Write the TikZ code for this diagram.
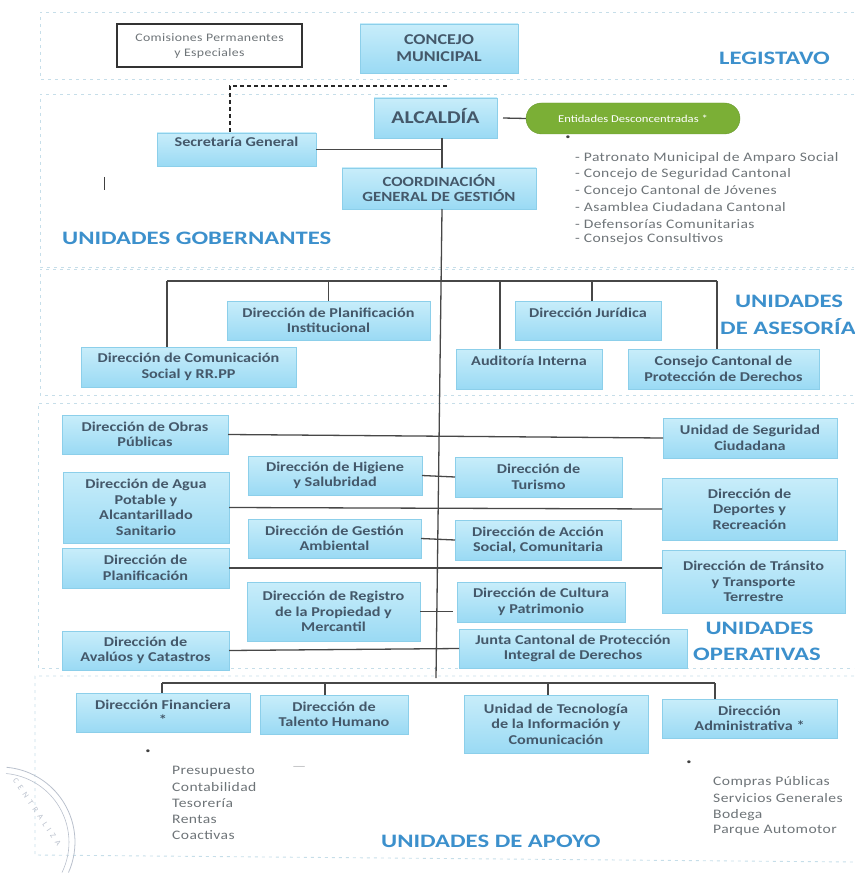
\documentclass[tikz,border=0pt]{standalone}
\usepackage{fontspec}
\usepackage{xcolor}
\setmainfont[FakeStretch=1.2]{Carlito}
\newfontfamily\listfont[LetterSpace=3,FakeStretch=1.2]{Carlito}
\newfontfamily\titlefont[FakeStretch=1.3]{Carlito}
\newfontfamily\sellofont[LetterSpace=55]{Carlito}
\definecolor{boxtop}{HTML}{C8EDFA}
\definecolor{boxbot}{HTML}{9ADAF4}
\definecolor{boxline}{HTML}{8CCFEA}
\definecolor{boxtext}{HTML}{44586A}
\definecolor{titleblue}{HTML}{3C90CC}
\definecolor{zoneline}{HTML}{C6DEE9}
\definecolor{listgray}{HTML}{6E7478}
\definecolor{stampgray}{HTML}{B9C0CC}
\definecolor{entfill}{HTML}{7BAF36}
\definecolor{entline}{HTML}{6A9A30}

\begin{document}
\begin{tikzpicture}[x=1pt,y=-1pt]
			\tikzstyle{unitbox} = [rectangle, inner sep=0pt, outer sep=0pt, text centered, align=center, draw=boxline, top color=boxtop, bottom color=boxbot, text=boxtext, font=\fontsize{13.5}{15.5}\selectfont\bfseries]
			\tikzstyle{unitname} = [text=titleblue, font=\fontsize{19}{20}\titlefont\bfseries, inner sep=0pt, anchor=west]
			\tikzstyle{listitem} = [text=listgray, font=\fontsize{13}{14}\listfont, inner sep=0pt, anchor=west]
			\tikzstyle{dotmark} = [text=black!75, font=\fontsize{8}{9}\selectfont, inner sep=0pt]
			\tikzstyle{zone} = [draw=zoneline, dash pattern=on 3pt off 4pt, line width=0.9pt]
			\tikzstyle{conn} = [draw=black!72, line width=1.3pt]

			\useasboundingbox (0,0) rectangle (854,874);

			% bandas
			\draw [zone] (854,12) -- (40,12) -- (40,79) -- (854,79);
			\draw [zone] (854,94) -- (40,94) -- (40,267) -- (854,267);
			\draw [zone] (854,269) -- (40,269) -- (40,395) -- (854,395);
			\draw [zone] (854,403) -- (38,403) -- (38,668) -- (854,668);
			\draw [zone] (854,676) -- (35,676) -- (35,855) -- (854,862);

			% sello
			\draw [stampgray, line width=0.8pt] (68.5,872.5) arc (-24:85:75pt);
			\draw [stampgray, line width=0.6pt] (62,872.5) arc (-26:85:69pt);
			\node (sello) [rotate=-56, text=stampgray, inner sep=0pt, font=\fontsize{8}{10}\sellofont] at (37,812) {CENTRALIZA};

			% legislativo
			\node (comisiones) [rectangle, draw=black!80, line width=1.1pt, inner sep=0pt, align=center, text=listgray, minimum width=185pt, minimum height=43pt, font=\fontsize{11.5}{15}\listfont] at (209.5,45.5) {Comisiones Permanentes\\y Especiales};
			\node (concejo) [unitbox, minimum width=158pt, minimum height=49pt, font=\fontsize{15}{17}\selectfont\bfseries] at (439,48.5) {CONCEJO\\MUNICIPAL};
			\node (legis) [unitname] at (719,58) {LEGISTAVO};

			% gobernantes
			\node (alcaldia) [unitbox, minimum width=123pt, minimum height=40pt, font=\fontsize{18}{20}\selectfont\bfseries] at (435.5,118) {\raisebox{4pt}{ALCALDÍA}};
			\node (entidades) [rectangle, rounded corners=15.5pt, inner sep=0pt, draw=entline, fill=entfill, minimum width=214pt, minimum height=31pt, text=white, font=\fontsize{10.5}{12}\selectfont] at (633,118.5) {Entidades Desconcentradas *};
			\node (secretaria) [unitbox, minimum width=159pt, minimum height=33pt] at (236.5,149.5) {Secretaría General\\~};
			\node (coordinacion) [unitbox, minimum width=194pt, minimum height=41pt, font=\fontsize{14}{15}\selectfont\bfseries] at (439,188.5) {COORDINACIÓN\\GENERAL DE GESTIÓN};
			\node (gobbullet) [dotmark] at (568,138) {•};
			\node (gob1) [listitem] at (575,158) {- Patronato Municipal de Amparo Social};
			\node (gob2) [listitem] at (575,174) {- Concejo de Seguridad Cantonal};
			\node (gob3) [listitem] at (575,191) {- Concejo Cantonal de Jóvenes};
			\node (gob4) [listitem] at (575,207) {- Asamblea Ciudadana Cantonal};
			\node (gob5) [listitem] at (575,224) {- Defensorías Comunitarias};
			\node (gob6) [listitem] at (575,239) {- Consejos Consultivos};
			\node (gobname) [unitname] at (62,238) {UNIDADES GOBERNANTES};
			\draw [black!75, line width=1pt] (104,177) -- (104,190);

			% asesoria
			\node (planinst) [unitbox, minimum width=203pt, minimum height=39pt] at (328.5,320.5) {Dirección de Planificación\\Institucional};
			\node (juridica) [unitbox, minimum width=146pt, minimum height=39pt] at (588,320.5) {Dirección Jurídica\\~};
			\node (comunicacion) [unitbox, minimum width=215pt, minimum height=40pt] at (188.5,367) {Dirección de Comunicación\\Social y RR.PP};
			\node (auditoria) [unitbox, minimum width=146pt, minimum height=40pt] at (529,369) {Auditoría Interna\\~};
			\node (consejo) [unitbox, minimum width=191pt, minimum height=40pt] at (723.5,369) {Consejo Cantonal de\\Protección de Derechos};
			\node (aseuni) [unitname, anchor=center] at (789,301) {UNIDADES};
			\node (asename) [unitname] at (720,327) {DE ASESORÍA};

			% operativas
			\node (obras) [unitbox, minimum width=166pt, minimum height=39pt] at (145,434.5) {Dirección de Obras\\Públicas};
			\node (seguridad) [unitbox, minimum width=174pt, minimum height=40pt] at (750,438) {Unidad de Seguridad\\Ciudadana};
			\node (higiene) [unitbox, minimum width=174pt, minimum height=39pt] at (335,475.5) {Dirección de Higiene\\y Salubridad};
			\node (turismo) [unitbox, minimum width=167pt, minimum height=40pt] at (538.5,477) {Dirección de\\Turismo};
			\node (agua) [unitbox, minimum width=166pt, minimum height=71pt] at (146,507.5) {Dirección de Agua\\Potable y\\Alcantarillado\\Sanitario};
			\node (deportes) [unitbox, minimum width=175pt, minimum height=62pt] at (749.5,509) {Dirección de\\Deportes y\\Recreación};
			\node (ambiental) [unitbox, minimum width=173pt, minimum height=39pt] at (334.5,538.5) {Dirección de Gestión\\Ambiental};
			\node (accion) [unitbox, minimum width=166pt, minimum height=40pt] at (538,540) {Dirección de Acción\\Social, Comunitaria};
			\node (planificacion) [unitbox, minimum width=167pt, minimum height=40pt] at (145.5,568) {Dirección de\\Planificación};
			\node (transito) [unitbox, minimum width=183pt, minimum height=63pt] at (753.5,581.5) {Dirección de Tránsito\\y Transporte\\Terrestre};
			\node (registro) [unitbox, minimum width=173pt, minimum height=59pt] at (333.5,611.5) {Dirección de Registro\\de la Propiedad y\\Mercantil};
			\node (cultura) [unitbox, minimum width=168pt, minimum height=40pt] at (541,602) {Dirección de Cultura\\y Patrimonio};
			\node (avaluos) [unitbox, minimum width=167pt, minimum height=39pt] at (145.5,650.5) {Dirección de\\Avalúos y Catastros};
			\node (junta) [unitbox, minimum width=228pt, minimum height=39pt] at (573,648.5) {Junta Cantonal de Protección\\Integral de Derechos};
			\node (opeuni) [unitname, anchor=center] at (759.5,628) {UNIDADES};
			\node (opename) [unitname] at (693,654) {OPERATIVAS};

			% apoyo
			\node (financiera) [unitbox, minimum width=174pt, minimum height=39pt] at (163,712.5) {Dirección Financiera\\*};
			\node (talento) [unitbox, minimum width=148pt, minimum height=39pt] at (334,714.5) {Dirección de\\Talento Humano};
			\node (tecnologia) [unitbox, minimum width=184pt, minimum height=58pt] at (556,724) {Unidad de Tecnología\\de la Información y\\Comunicación};
			\node (administrativa) [unitbox, minimum width=175pt, minimum height=39pt] at (749.5,718.5) {Dirección\\Administrativa *};
			\node (finbullet) [dotmark] at (148,752) {•};
			\node (finmark) [listitem, text=listgray!50] at (292,768) {—};
			\node (fin1) [listitem] at (172,771) {Presupuesto};
			\node (fin2) [listitem] at (172,787) {Contabilidad};
			\node (fin3) [listitem] at (172,803.5) {Tesorería};
			\node (fin4) [listitem] at (172,819) {Rentas};
			\node (fin5) [listitem] at (172,835) {Coactivas};
			\node (admbullet) [dotmark] at (689,763) {•};
			\node (adm1) [listitem] at (713,782) {Compras Públicas};
			\node (adm2) [listitem] at (713,798) {Servicios Generales};
			\node (adm3) [listitem] at (713,815) {Bodega};
			\node (adm4) [listitem] at (713,830) {Parque Automotor};
			\node (apoyoname) [unitname] at (381,841) {UNIDADES DE APOYO};

			\coordinate (stem) at (442,150);
			\coordinate (dashend) at (447,86);
			\coordinate (dashcorner) at (230,86);
			\coordinate (mainend) at (436,678);
			\coordinate (aseleft) at (167,281);
			\coordinate (aseright) at (717,281);
			\coordinate (aseaudit) at (500,281);
			\coordinate (asejurid) at (592,281);
			\coordinate (apoleft) at (162,683);
			\coordinate (aporight) at (715,683);
			\coordinate (apotalento) at (325,683);
			\coordinate (apotecno) at (548,683);

			\draw [conn, dash pattern=on 4pt off 3pt, black!85] (dashend) -- (dashcorner) -- (dashcorner |- secretaria.north);
			\draw [conn] ([xshift=6pt]alcaldia.east) -- (entidades.west);
			\draw [conn] (stem |- alcaldia.south) -- (stem |- coordinacion.north);
			\draw [conn] (secretaria.east) -- (stem |- secretaria.east);
			\draw [conn] (stem |- coordinacion.south) -- (mainend);

			\draw [conn] (aseleft) -- (aseright);
			\draw [conn] (aseleft) -- (aseleft |- comunicacion.north);
			\draw [conn] (aseright) -- (aseright |- consejo.north);
			\draw [conn] (planinst.north) -- (planinst.north |- aseleft);
			\draw [conn] (aseaudit) -- (aseaudit |- auditoria.north);
			\draw [conn] (asejurid) -- (asejurid |- juridica.north);

			\draw [conn] (obras.east) -- (seguridad.west);
			\draw [conn] (higiene.east) -- (turismo.west);
			\draw [conn] (agua.east) -- (deportes.west);
			\draw [conn] (ambiental.east) -- (accion.west);
			\draw [conn] (planificacion.east) -- (planificacion.east -| transito.west);
			\draw [conn] (registro.east) -- ([xshift=-4pt]registro.east -| cultura.west);
			\draw [conn] (avaluos.east) -- (junta.west);

			\draw [conn] (apoleft) -- (aporight);
			\draw [conn] (apoleft) -- (apoleft |- financiera.north);
			\draw [conn] (apotalento) -- (apotalento |- talento.north);
			\draw [conn] (apotecno) -- (apotecno |- tecnologia.north);
			\draw [conn] (aporight) -- (aporight |- administrativa.north);

		\end{tikzpicture}
\end{document}
